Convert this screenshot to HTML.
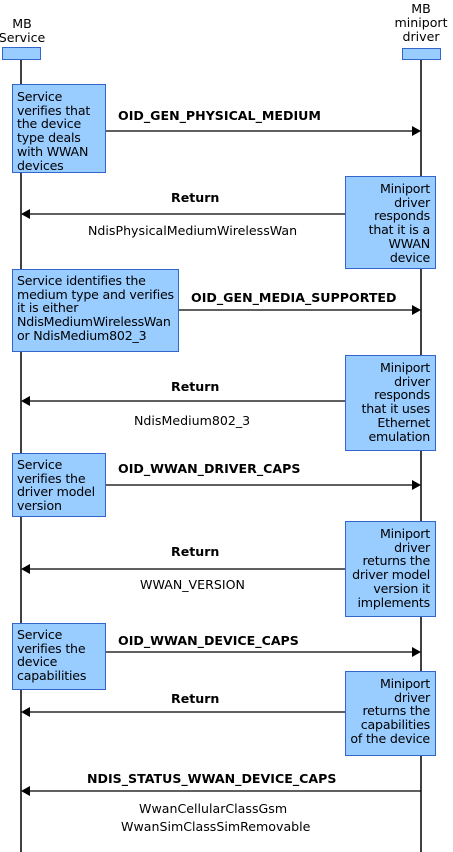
<!DOCTYPE html>
<html><head><meta charset="utf-8"><style>
body{margin:0;width:453px;height:852px;background:#fff;position:relative;overflow:hidden;font-family:"DejaVu Sans","Liberation Sans",sans-serif;font-size:12.6px;color:#000}
.b{position:absolute;background:#99ccff;border:1px solid #3366cc;box-sizing:border-box;line-height:13.7px;padding:4px 4px 0 4px;white-space:nowrap;letter-spacing:-0.2px}
.r{text-align:right;padding-right:5px}
.t{position:absolute;white-space:nowrap;line-height:13px}
.bd{font-weight:bold}
</style></head><body>
<svg width="453" height="852" style="position:absolute;left:0;top:0">
<line x1="21" y1="59" x2="21" y2="852" stroke="#000" stroke-width="1.5"/>
<line x1="421" y1="59" x2="421" y2="852" stroke="#000" stroke-width="1.5"/>
<g stroke="#000" stroke-width="1.3">
<line x1="105" y1="131" x2="412" y2="131"/>
<line x1="30" y1="214" x2="345" y2="214"/>
<line x1="178" y1="310" x2="412" y2="310"/>
<line x1="30" y1="401" x2="345" y2="401"/>
<line x1="105" y1="485" x2="412" y2="485"/>
<line x1="30" y1="569" x2="345" y2="569"/>
<line x1="105" y1="652" x2="412" y2="652"/>
<line x1="30" y1="712" x2="345" y2="712"/>
<line x1="30" y1="791" x2="421" y2="791"/>
</g>
<g fill="#000">
<polygon points="421,131 412,126 412,136"/>
<polygon points="21,214 30,209 30,219"/>
<polygon points="421,310 412,305 412,315"/>
<polygon points="21,401 30,396 30,406"/>
<polygon points="421,485 412,480 412,490"/>
<polygon points="21,569 30,564 30,574"/>
<polygon points="421,652 412,647 412,657"/>
<polygon points="21,712 30,707 30,717"/>
<polygon points="21,791 30,786 30,796"/>
</g>
</svg>
<div class="t" style="left:-5px;width:54px;text-align:center;top:17px;line-height:14px">MB<br>Service</div>
<div class="t" style="left:391px;width:60px;text-align:center;top:2px;line-height:14px">MB<br>miniport<br>driver</div>
<div class="b" style="left:2px;top:47px;width:39px;height:13px;padding:0"></div>
<div class="b" style="left:402px;top:48px;width:39px;height:12px;padding:0"></div>

<div class="b" style="left:12px;top:84px;width:94px;height:89px;padding-top:5px">Service<br>verifies that<br>the device<br>type deals<br>with WWAN<br>devices</div>
<div class="t bd" style="left:118px;top:109px">OID_GEN_PHYSICAL_MEDIUM</div>

<div class="b r" style="left:345px;top:176px;width:91px;height:93px;padding-top:5px">Miniport<br>driver<br>responds<br>that it is a<br>WWAN<br>device</div>
<div class="t bd" style="left:171px;top:191px">Return</div>
<div class="t" style="left:88px;top:224px">NdisPhysicalMediumWirelessWan</div>

<div class="b" style="left:12px;top:269px;width:167px;height:83px;padding-top:4px">Service identifies the<br>medium type and verifies<br>it is either<br>NdisMediumWirelessWan<br>or NdisMedium802_3</div>
<div class="t bd" style="left:191px;top:291px">OID_GEN_MEDIA_SUPPORTED</div>

<div class="b r" style="left:345px;top:355px;width:91px;height:96px;padding-top:5px">Miniport<br>driver<br>responds<br>that it uses<br>Ethernet<br>emulation</div>
<div class="t bd" style="left:171px;top:380px">Return</div>
<div class="t" style="left:134px;top:414px">NdisMedium802_3</div>

<div class="b" style="left:12px;top:453px;width:94px;height:64px;padding-top:4px">Service<br>verifies the<br>driver model<br>version</div>
<div class="t bd" style="left:118px;top:462px">OID_WWAN_DRIVER_CAPS</div>

<div class="b r" style="left:345px;top:521px;width:91px;height:96px;padding-top:5px">Miniport<br>driver<br>returns the<br>driver model<br>version it<br>implements</div>
<div class="t bd" style="left:171px;top:545px">Return</div>
<div class="t" style="left:140px;top:578px">WWAN_VERSION</div>

<div class="b" style="left:12px;top:623px;width:94px;height:67px;padding-top:4px">Service<br>verifies the<br>device<br>capabilities</div>
<div class="t bd" style="left:118px;top:634px">OID_WWAN_DEVICE_CAPS</div>

<div class="b r" style="left:345px;top:671px;width:91px;height:85px;padding-top:5px">Miniport<br>driver<br>returns the<br>capabilities<br>of the device</div>
<div class="t bd" style="left:171px;top:692px">Return</div>

<div class="t bd" style="left:87px;top:772px">NDIS_STATUS_WWAN_DEVICE_CAPS</div>
<div class="t" style="left:139px;top:802px">WwanCellularClassGsm</div>
<div class="t" style="left:121px;top:820px">WwanSimClassSimRemovable</div>
</body></html>
